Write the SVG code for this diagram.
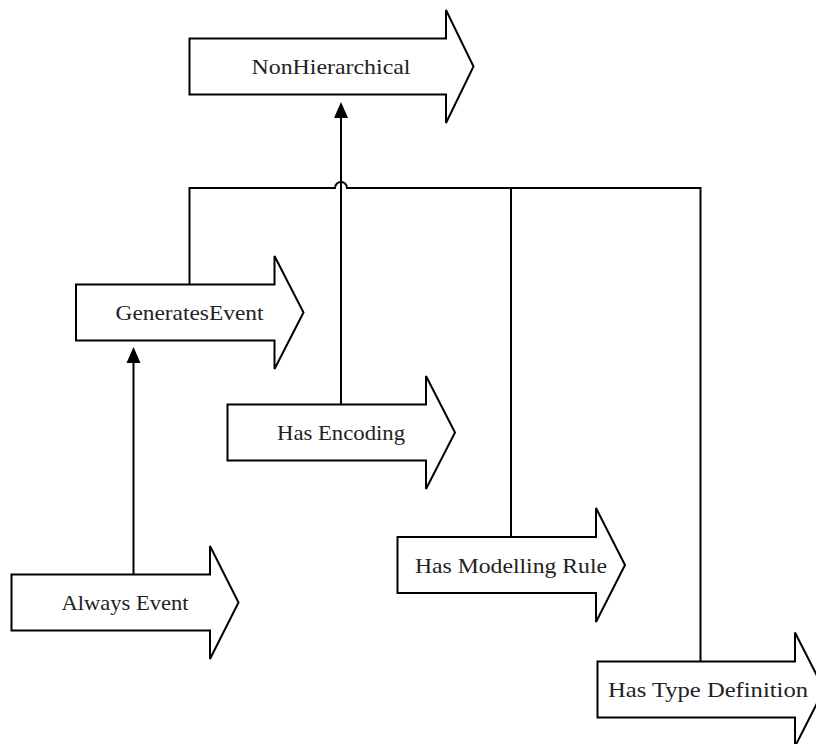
<svg xmlns="http://www.w3.org/2000/svg" width="816" height="744" viewBox="0 0 816 744">
<style>
.shape{fill:#ffffff;stroke:#000000;stroke-width:2;stroke-linejoin:miter}
.lbl{font-family:"Liberation Serif","Times New Roman",serif;font-size:22px;fill:#222222;text-anchor:middle}
.conn{fill:none;stroke:#000000;stroke-width:2}
.head{fill:#000000;stroke:none}
</style>
<rect x="0" y="0" width="816" height="744" fill="#ffffff"/>
<g id="connectors">
<path class="conn" d="M189.5 284.5 V188 H335 A6 6 0 0 1 347 188 H700.5 V661.5"/>
<path class="conn" d="M511 188 V537"/>
<path class="conn" d="M341 404.5 V116"/>
<polygon class="head" points="341,102 334,118 348,118"/>
<path class="conn" d="M133.5 574.5 V361"/>
<polygon class="head" points="133.5,347 126.5,363 140.5,363"/>
</g>
<g id="node-nonhierarchical">
<path class="shape" d="M189.5 38.5 H446 V10 L473.5 66.5 L446 123 V94.5 H189.5 Z"/>
<text class="lbl" x="331" y="74" textLength="159" lengthAdjust="spacingAndGlyphs">NonHierarchical</text>
</g>
<g id="node-generatesevent">
<path class="shape" d="M76 284.5 H274.5 V256 L303.5 312.5 L274.5 369 V340.5 H76 Z"/>
<text class="lbl" x="189.5" y="320" textLength="148" lengthAdjust="spacingAndGlyphs">GeneratesEvent</text>
</g>
<g id="node-hasencoding">
<path class="shape" d="M227.5 404.5 H426 V376 L455 432.5 L426 489 V460.5 H227.5 Z"/>
<text class="lbl" x="341" y="440" textLength="128" lengthAdjust="spacingAndGlyphs">Has Encoding</text>
</g>
<g id="node-alwaysevent">
<path class="shape" d="M11.5 574.5 H210 V546 L238.5 602.5 L210 659 V630.5 H11.5 Z"/>
<text class="lbl" x="125" y="610" textLength="127" lengthAdjust="spacingAndGlyphs">Always Event</text>
</g>
<g id="node-hasmodellingrule">
<path class="shape" d="M397.5 537 H596 V508 L625 565 L596 622 V593 H397.5 Z"/>
<text class="lbl" x="511" y="572.5" textLength="192" lengthAdjust="spacingAndGlyphs">Has Modelling Rule</text>
</g>
<g id="node-hastypedefinition">
<path class="shape" d="M597.5 661.5 H795 V632.5 L824 689.5 L795 746.5 V717.5 H597.5 Z"/>
<text class="lbl" x="708" y="697" textLength="200" lengthAdjust="spacingAndGlyphs">Has Type Definition</text>
</g>
</svg>
